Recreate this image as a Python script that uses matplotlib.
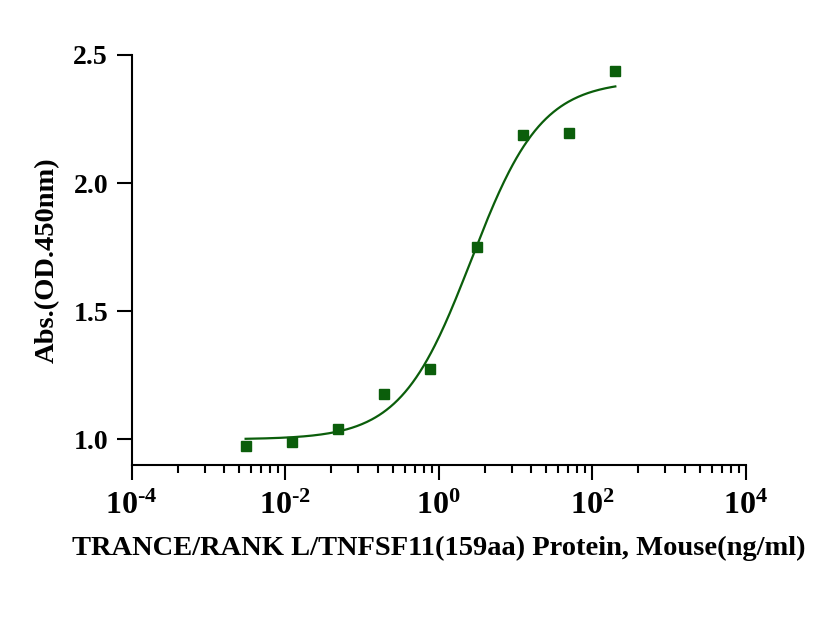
import numpy as np
import matplotlib
matplotlib.use("Agg")
import matplotlib.pyplot as plt
from matplotlib.ticker import FixedLocator, NullFormatter

plt.rcParams['font.family'] = 'Liberation Serif'
plt.rcParams['font.weight'] = 'bold'
plt.rcParams['mathtext.fontset'] = 'custom'
plt.rcParams['mathtext.rm'] = 'Liberation Serif:bold'
plt.rcParams['mathtext.bf'] = 'Liberation Serif:bold'

# 4-fold dilution series (ng/ml) and measured OD450
conc = [0.00305, 0.0122, 0.0488, 0.195, 0.781, 3.125, 12.5, 50, 200]
od450 = [0.973, 0.991, 1.039, 1.178, 1.273, 1.751, 2.187, 2.196, 2.436]

# 4PL fit parameters
bottom = 1.0
top = 2.40
ec50 = 2.65
hill = 0.95

xtick_exps = ['-4', '-2', '0', '2', '4']

green = '#0b5e0b'

fig = plt.figure(figsize=(8.32, 6.25), dpi=100)
ax = fig.add_axes([0.1583, 0.256, 0.738, 0.656])

xs = np.logspace(np.log10(conc[0]), np.log10(conc[-1]), 300)
fit = bottom + (top - bottom) / (1 + (ec50 / xs) ** hill)
ax.plot(xs, fit, color=green, lw=1.6)
ax.plot(conc, od450, 's', color=green, ms=6.5, mec=green)

ax.set_xscale('log')
ax.set_xlim(1e-4, 1e4)
ax.set_ylim(0.9, 2.5)

# major ticks every 2 decades, minor ticks Prism-style (k^2 spacing)
majors = [10.0 ** int(e) for e in xtick_exps]
ax.xaxis.set_major_locator(FixedLocator(majors))
minors = [m * k ** 2 for m in majors[:-1] for k in range(2, 10)]
ax.xaxis.set_minor_locator(FixedLocator(minors))
ax.xaxis.set_minor_formatter(NullFormatter())
ax.set_xticklabels([r'$\mathbf{10^{%s}}$' % e.replace('-', '\u2010') for e in xtick_exps])
ax.set_yticks([1.0, 1.5, 2.0, 2.5])
ax.set_yticklabels(['1.0', '1.5', '2.0', '2.5'])

for s in ['top', 'right']:
    ax.spines[s].set_visible(False)
for s in ['left', 'bottom']:
    ax.spines[s].set_linewidth(1.5)

ax.tick_params(axis='both', which='major', width=1.5, length=11, labelsize=20, pad=6)
ax.tick_params(axis='x', which='minor', width=1.5, length=6)
ax.tick_params(axis='x', which='major', labelsize=23, pad=8)

ax.set_ylabel('Abs.(OD.450nm)', fontsize=20.5, fontweight='bold', labelpad=10)
ax.set_xlabel('TRANCE/RANK L/TNFSF11(159aa) Protein, Mouse(ng/ml)', fontsize=20.5,
              fontweight='bold', labelpad=11)

fig.savefig('out.png', dpi=100)
